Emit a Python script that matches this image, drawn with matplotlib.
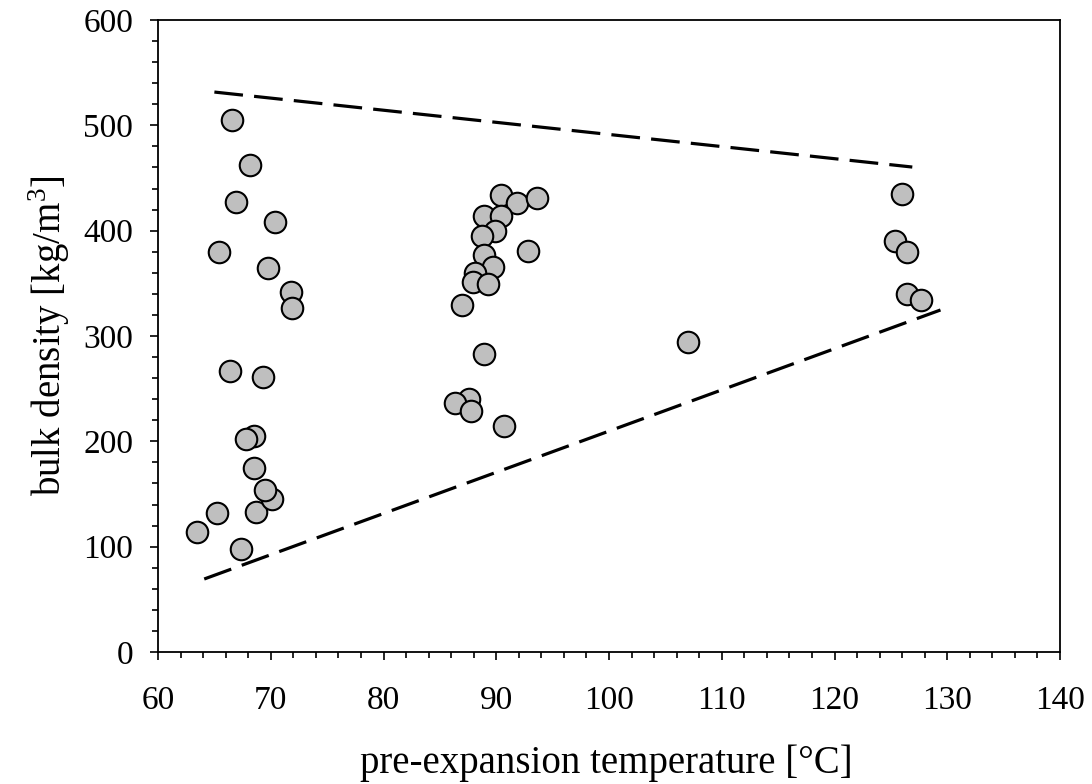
import matplotlib
matplotlib.use("Agg")
import matplotlib.pyplot as plt
from matplotlib.ticker import MultipleLocator

temperature = [63.5, 65.2, 67.4, 68.7, 70.1, 69.5, 68.5, 68.5, 67.8, 66.4, 69.3,
               66.6, 68.2, 66.9, 65.4, 70.4, 69.8, 71.8, 71.9,
               90.4, 91.8, 93.6, 88.9, 90.4, 89.9, 88.7, 92.8, 88.9, 89.7, 88.1,
               87.9, 89.3, 87.0, 88.9, 87.6, 86.3, 87.8, 90.7,
               107.0,
               126.0, 125.4, 126.4, 126.4, 127.7]
density = [114, 132, 97.5, 133, 145, 154, 175, 205, 202, 267, 261,
           505, 462, 427, 379.5, 408, 365, 341.5, 327,
           433.5, 426, 431, 414, 414, 400, 394.5, 381, 377, 365.5, 359.5,
           351, 349, 329, 282.5, 240, 236, 229, 215,
           294,
           435, 390, 380, 340, 334]

upper_x = [65.0, 126.9]
upper_y = [531.6, 460.4]
lower_x = [64.1, 129.4]
lower_y = [69.3, 324.7]

plt.rcParams['font.family'] = ['Liberation Serif', 'DejaVu Serif']
plt.rcParams['mathtext.fontset'] = 'custom'
plt.rcParams['mathtext.rm'] = 'Liberation Serif'

fig = plt.figure(figsize=(10.92, 7.84), dpi=100)
ax = fig.add_axes([158/1092, 1-652/784, (1060-158)/1092, (652-20)/784])

ax.plot(upper_x, upper_y, color='black', lw=2.3, dashes=(9, 3.5), dash_capstyle='butt')
ax.plot(lower_x, lower_y, color='black', lw=2.3, dashes=(9, 3.5), dash_capstyle='butt')
ax.scatter(temperature, density, s=240, facecolor='#bfbfbf', edgecolor='black', linewidths=1.5, zorder=3)

ax.set_xlim(60, 140)
ax.set_ylim(0, 600)
ax.xaxis.set_major_locator(MultipleLocator(10))
ax.xaxis.set_minor_locator(MultipleLocator(2))
ax.yaxis.set_major_locator(MultipleLocator(100))
ax.yaxis.set_minor_locator(MultipleLocator(20))
ax.tick_params(which='both', direction='out', width=1.2, labelsize=24, top=False, right=False)
ax.tick_params(which='major', length=6)
ax.tick_params(which='minor', length=4)
ax.tick_params(axis='x', which='major', pad=18)
ax.tick_params(axis='y', which='major', pad=12)
for sp in ax.spines.values():
    sp.set_linewidth(1.3)

ax.set_xlabel('pre-expansion temperature [°C]', fontsize=28)
ax.xaxis.label.set_va('baseline')
ax.xaxis.set_label_coords(0.497, (652-773)/632)
ax.set_ylabel('bulk density [kg/m$^\\mathregular{3}$]', fontsize=28, labelpad=8)

fig.savefig('out.png', dpi=100)
